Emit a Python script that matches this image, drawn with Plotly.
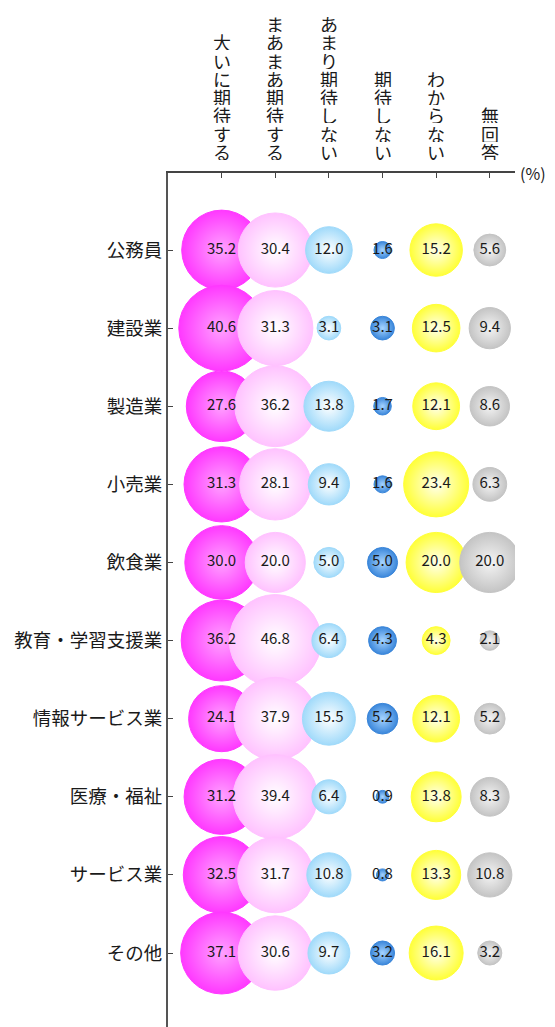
import plotly.graph_objects as go

# Survey: expectations by industry (%)
industries = ["公務員", "建設業", "製造業", "小売業", "飲食業",
              "教育・学習支援業", "情報サービス業", "医療・福祉", "サービス業", "その他"]
answers = ["大いに期待する", "まあまあ期待する", "あまり期待しない",
           "期待しない", "わからない", "無回答"]

very_much = [35.2, 40.6, 27.6, 31.3, 30.0, 36.2, 24.1, 31.2, 32.5, 37.1]
somewhat = [30.4, 31.3, 36.2, 28.1, 20.0, 46.8, 37.9, 39.4, 31.7, 30.6]
not_much = [12.0, 3.1, 13.8, 9.4, 5.0, 6.4, 15.5, 6.4, 10.8, 9.7]
not_at_all = [1.6, 3.1, 1.7, 1.6, 5.0, 4.3, 5.2, 0.9, 0.8, 3.2]
dont_know = [15.2, 12.5, 12.1, 23.4, 20.0, 4.3, 12.1, 13.8, 13.3, 16.1]
no_answer = [5.6, 9.4, 8.6, 6.3, 20.0, 2.1, 5.2, 8.3, 10.8, 3.2]

series = [very_much, somewhat, not_much, not_at_all, dont_know, no_answer]

# (edge colour, centre colour) of each radial fill
palette = [
    ("#ff38ff", "#ffa2ff"),
    ("#ffc2ff", "#ffffff"),
    ("#a0dafa", "#ffffff"),
    ("#3a86da", "#a6d4ff"),
    ("#ffff38", "#ffffee"),
    ("#c4c4c4", "#f4f4f4"),
]

FONT = "Noto Sans CJK JP"
PX_PER_SQRT = 13.45  # bubble diameter in px per sqrt(%)

fig = go.Figure()
rows = list(range(len(industries)))

# Bubbles: one trace per answer, drawn left to right
for col, (vals, (edge, centre)) in enumerate(zip(series, palette)):
    fig.add_trace(go.Scatter(
        x=[col] * len(vals),
        y=rows,
        mode="markers",
        marker=dict(
            size=vals,
            sizemode="area",
            sizeref=2 / PX_PER_SQRT ** 2,
            color=edge,
            gradient=dict(type="radial", color=centre),
            line=dict(width=1, color=edge),
            opacity=1,
        ),
        hoverinfo="skip",
        showlegend=False,
    ))

# Value labels on top of every bubble
for col, vals in enumerate(series):
    fig.add_trace(go.Scatter(
        x=[col] * len(vals),
        y=rows,
        mode="text",
        text=[f"{v:.1f}" for v in vals],
        textposition="middle center",
        textfont=dict(family=FONT, size=15, color="#1a1a1a"),
        hoverinfo="skip",
        showlegend=False,
    ))

# Column headers written vertically, one character per line
PITCH = 18.3
annotations = []
for col, label in enumerate(answers):
    n = len(label)
    for j, ch in enumerate(label):
        annotations.append(dict(
            x=col, xref="x", y=1, yref="paper",
            xanchor="center", yanchor="middle",
            yshift=21.5 + (n - 1 - j) * PITCH,
            text=ch, showarrow=False,
            height=17, borderpad=0, valign="middle",
            font=dict(family=FONT, size=18, color="#1a1a1a"),
        ))
annotations.append(dict(
    x=1, xref="paper", y=1, yref="paper",
    xanchor="left", yanchor="middle", xshift=3,
    text="(%)", showarrow=False,
    font=dict(family=FONT, size=16, color="#1a1a1a"),
))

fig.update_layout(
    width=555, height=1027,
    margin=dict(l=168, r=40, t=173, b=0),
    paper_bgcolor="white", plot_bgcolor="white",
    annotations=annotations,
    xaxis=dict(
        range=[-1.0, 5.47], side="top",
        tickvals=list(range(len(answers))), showticklabels=False,
        ticks="inside", ticklen=5, tickwidth=1.2, tickcolor="#444",
        showline=True, linecolor="#444", linewidth=1.5,
        showgrid=False, zeroline=False, fixedrange=True,
    ),
    yaxis=dict(
        range=[9.947, -0.986],
        tickvals=rows, ticktext=industries,
        tickfont=dict(family=FONT, size=18.5, color="#1a1a1a"),
        ticks="inside", ticklen=5, tickwidth=1.2, tickcolor="#444",
        showline=True, linecolor="#555", linewidth=2,
        showgrid=False, zeroline=False, fixedrange=True,
    ),
)

fig.write_html("out.html")
